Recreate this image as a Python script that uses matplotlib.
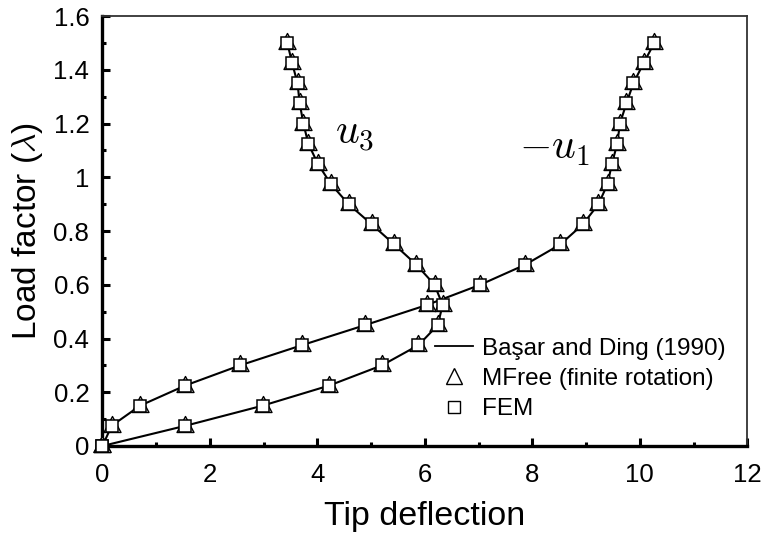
import matplotlib
matplotlib.use("Agg")
import matplotlib.pyplot as plt
from matplotlib.lines import Line2D
from matplotlib.path import Path
from matplotlib.ticker import MultipleLocator

plt.rcParams['font.family'] = ['Liberation Sans', 'DejaVu Sans']
plt.rcParams['mathtext.fontset'] = 'cm'

# Load factor levels
load = [0.0, 0.075, 0.15, 0.225, 0.3, 0.375, 0.45, 0.525, 0.6, 0.675, 0.75,
        0.825, 0.9, 0.975, 1.05, 1.125, 1.2, 1.275, 1.35, 1.425, 1.5]
# -u1 tip deflection
neg_u1 = [0.0, 0.17, 0.70, 1.54, 2.56, 3.71, 4.89, 6.04, 7.03, 7.87, 8.52,
          8.94, 9.23, 9.40, 9.48, 9.58, 9.63, 9.75, 9.88, 10.07, 10.27]
# u3 tip deflection
u3 = [0.0, 1.54, 2.98, 4.22, 5.20, 5.88, 6.24, 6.33, 6.18, 5.84, 5.43,
      5.01, 4.58, 4.25, 4.01, 3.83, 3.74, 3.67, 3.63, 3.53, 3.44]

x_ticks = [0, 2, 4, 6, 8, 10, 12]
y_ticks = [0, 0.2, 0.4, 0.6, 0.8, 1.0, 1.2, 1.4, 1.6]
y_ticklabels = ['0', '0.2', '0.4', '0.6', '0.8', '1', '1.2', '1.4', '1.6']

# triangle marker whose base sits near the square's bottom edge
tri_path = Path([(0, 1), (-0.85, -0.6), (0.85, -0.6), (0, 1)],
                [Path.MOVETO, Path.LINETO, Path.LINETO, Path.CLOSEPOLY])

fig = plt.figure(figsize=(7.67, 5.37), dpi=100)
ax = fig.add_axes([0.1336, 0.1695, 0.9743 - 0.1336, 0.970 - 0.1695])

for xs in (neg_u1, u3):
    ax.plot(xs, load, color='black', lw=1.5, zorder=3, clip_on=False)
    ax.plot(xs, load, linestyle='none', marker=tri_path, markersize=14.4,
            markerfacecolor='white', markeredgecolor='black',
            markeredgewidth=1.0, zorder=4, clip_on=False)
    ax.plot(xs, load, linestyle='none', marker='s', markersize=8.8,
            markerfacecolor='white', markeredgecolor='black',
            markeredgewidth=1.1, zorder=5, clip_on=False)

ax.set_xlim(0, 12)
ax.set_ylim(0, 1.6)
ax.set_xticks(x_ticks)
ax.set_xticklabels([str(t) for t in x_ticks])
ax.set_yticks(y_ticks)
ax.set_yticklabels(y_ticklabels)
ax.xaxis.set_minor_locator(MultipleLocator(1))
ax.yaxis.set_minor_locator(MultipleLocator(0.1))
ax.tick_params(which='both', direction='in', top=False, right=False,
               width=2.2, labelsize=18.5)
ax.tick_params(which='major', length=6)
ax.tick_params(which='minor', length=3)
ax.tick_params(axis='x', which='major', pad=12)
ax.tick_params(axis='y', which='major', pad=9.5)

for s in ('left', 'bottom'):
    ax.spines[s].set_linewidth(2.4)
    ax.spines[s].set_color('black')
for s in ('top', 'right'):
    ax.spines[s].set_linewidth(1.3)
    ax.spines[s].set_color('#333333')

ax.set_xlabel('Tip deflection', fontsize=24.5, labelpad=10)
ax.set_ylabel(r'Load factor ($\lambda$)', fontsize=24, labelpad=6)

ax.text(4.33, 1.16, r'$u_3$', fontsize=30, ha='left', va='center')
ax.text(7.76, 1.11, r'$-u_1$', fontsize=30, ha='left', va='center')

handles = [
    Line2D([], [], color='black', lw=1.3),
    Line2D([], [], linestyle='none', marker='^', markersize=11,
           markerfacecolor='white', markeredgecolor='black', markeredgewidth=1.0),
    Line2D([], [], linestyle='none', marker='s', markersize=9,
           markerfacecolor='white', markeredgecolor='black', markeredgewidth=1.0),
]
labels = ['Başar and Ding (1990)', 'MFree (finite rotation)', 'FEM']
ax.legend(handles, labels, loc='upper left', bbox_to_anchor=(0.516, 0.252),
          frameon=False, fontsize=17.5, handlelength=1.55, handletextpad=0.37,
          labelspacing=0.34, borderpad=0, borderaxespad=0)

fig.savefig('out.png', dpi=100)
